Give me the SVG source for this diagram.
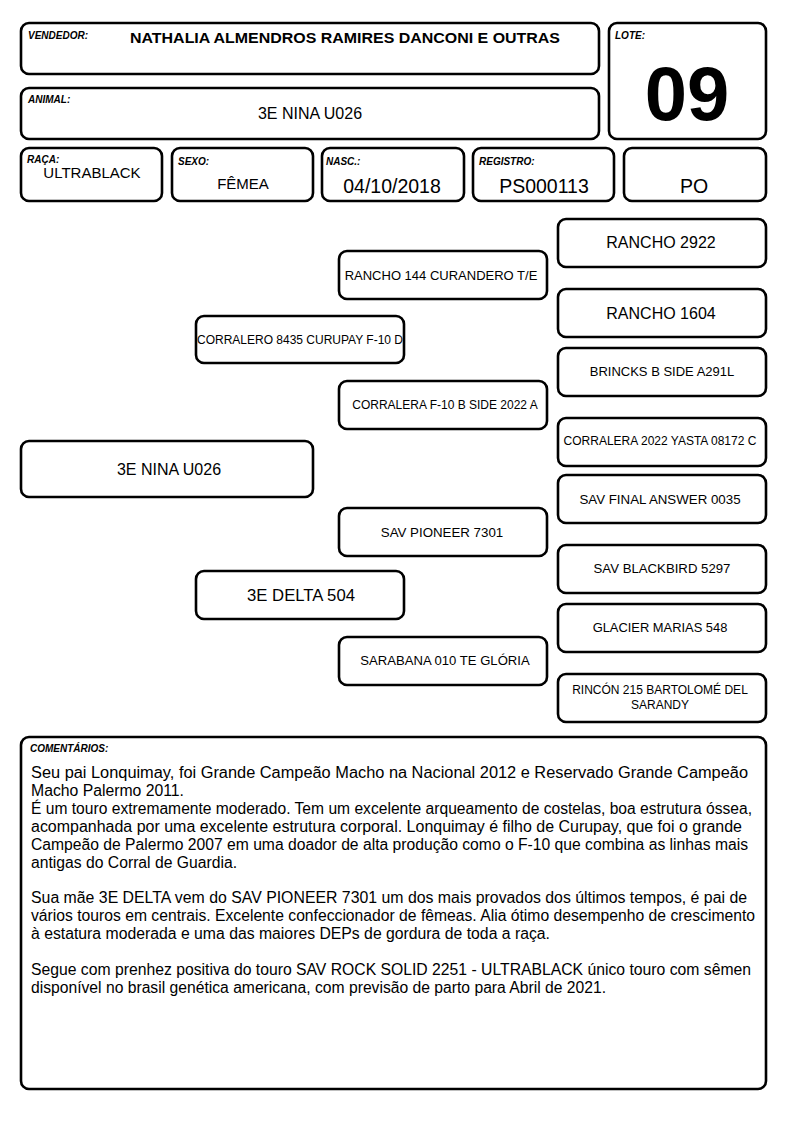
<svg xmlns="http://www.w3.org/2000/svg" width="794" height="1123" viewBox="0 0 794 1123">
<style>
.b{fill:#fff;stroke:#000;stroke-width:2.6}
.lb{font-family:"Liberation Sans",Arial,sans-serif;font-size:10px;font-weight:bold;font-style:italic;fill:#000}
.t{font-family:"Liberation Sans",Arial,sans-serif;fill:#000;text-anchor:middle}
.c{font-family:"Liberation Sans",Arial,sans-serif;font-size:16px;fill:#000}
</style>
<rect width="794" height="1123" fill="#fff"/>
<g id="vendedor"><rect class="b" x="21" y="23" width="578" height="51" rx="8"/><text class="lb" x="28" y="39">VENDEDOR:</text><text class="t" x="345" y="43" font-size="15" font-weight="bold" textLength="430" lengthAdjust="spacingAndGlyphs">NATHALIA ALMENDROS RAMIRES DANCONI E OUTRAS</text></g>
<g id="animal"><rect class="b" x="21" y="88" width="578" height="51" rx="8"/><text class="lb" x="28" y="103">ANIMAL:</text><text class="t" x="310" y="119" font-size="16">3E NINA U026</text></g>
<g id="lote"><rect class="b" x="609" y="23" width="157" height="116" rx="8"/><text class="lb" x="615" y="39">LOTE:</text><text class="t" x="687" y="120" font-size="76" font-weight="bold">09</text></g>
<g id="raca"><rect class="b" x="21" y="148" width="141" height="53" rx="8"/><text class="lb" x="27" y="163">RAÇA:</text><text class="t" x="92" y="178" font-size="15">ULTRABLACK</text></g>
<g id="sexo"><rect class="b" x="172" y="148" width="141" height="53" rx="8"/><text class="lb" x="178" y="165">SEXO:</text><text class="t" x="243" y="189" font-size="15">FÊMEA</text></g>
<g id="nasc"><rect class="b" x="322" y="148" width="142" height="53" rx="8"/><text class="lb" x="326" y="165">NASC.:</text><text class="t" x="392" y="193" font-size="19.5">04/10/2018</text></g>
<g id="registro"><rect class="b" x="473" y="148" width="141" height="53" rx="8"/><text class="lb" x="479" y="165">REGISTRO:</text><text class="t" x="544" y="193" font-size="19.5">PS000113</text></g>
<g id="po"><rect class="b" x="624" y="148" width="142" height="53" rx="8"/><text class="t" x="694" y="193" font-size="19.5">PO</text></g>
<g id="connectors"></g>
<g id="p-rancho2922"><rect class="b" x="558" y="219" width="208" height="48" rx="8"/><text class="t" x="661" y="248" font-size="16">RANCHO 2922</text></g>
<g id="p-rancho144"><rect class="b" x="339" y="251" width="208" height="48" rx="8"/><text class="t" x="441" y="280" font-size="13">RANCHO 144 CURANDERO T/E</text></g>
<g id="p-rancho1604"><rect class="b" x="558" y="289" width="208" height="48" rx="8"/><text class="t" x="661" y="319" font-size="16">RANCHO 1604</text></g>
<g id="p-corralero"><rect class="b" x="196" y="316" width="208" height="47" rx="8"/><text x="197" y="344" font-family="Liberation Sans,Arial,sans-serif" font-size="12" textLength="206" lengthAdjust="spacingAndGlyphs">CORRALERO 8435 CURUPAY F-10 D</text></g>
<g id="p-brincks"><rect class="b" x="558" y="348" width="208" height="48" rx="8"/><text class="t" x="662" y="376" font-size="13">BRINCKS B SIDE A291L</text></g>
<g id="p-corraleraf10"><rect class="b" x="339" y="381" width="208" height="48" rx="8"/><text class="t" x="445" y="409" font-size="12">CORRALERA F-10 B SIDE 2022 A</text></g>
<g id="p-corralera2022"><rect class="b" x="558" y="418" width="208" height="48" rx="8"/><text class="t" x="660" y="445" font-size="12">CORRALERA 2022 YASTA 08172 C</text></g>
<g id="p-nina"><rect class="b" x="21" y="441" width="292" height="56" rx="8"/><text class="t" x="169" y="475" font-size="16">3E NINA U026</text></g>
<g id="p-savfinal"><rect class="b" x="558" y="475" width="208" height="48" rx="8"/><text class="t" x="660" y="504" font-size="13.3">SAV FINAL ANSWER 0035</text></g>
<g id="p-pioneer"><rect class="b" x="339" y="508" width="208" height="48" rx="8"/><text class="t" x="442" y="537" font-size="13.3">SAV PIONEER 7301</text></g>
<g id="p-blackbird"><rect class="b" x="558" y="545" width="208" height="48" rx="8"/><text class="t" x="662" y="573" font-size="13.2">SAV BLACKBIRD 5297</text></g>
<g id="p-delta"><rect class="b" x="196" y="571" width="208" height="48" rx="8"/><text class="t" x="301" y="601" font-size="16.7">3E DELTA 504</text></g>
<g id="p-glacier"><rect class="b" x="558" y="604" width="208" height="48" rx="8"/><text class="t" x="660" y="632" font-size="12.9">GLACIER MARIAS 548</text></g>
<g id="p-sarabana"><rect class="b" x="339" y="637" width="208" height="48" rx="8"/><text class="t" x="445" y="665" font-size="13.1">SARABANA 010 TE GLÓRIA</text></g>
<g id="p-rincon"><rect class="b" x="558" y="674" width="208" height="48" rx="8"/><text class="t" x="660" y="694" font-size="12">RINCÓN 215 BARTOLOMÉ DEL</text><text class="t" x="660" y="709" font-size="12">SARANDY</text></g>
<g id="comentarios"><rect class="b" x="21" y="737" width="745" height="352" rx="8"/><text class="lb" x="30" y="752">COMENTÁRIOS:</text>
<text class="c" x="31" y="778" textLength="717" lengthAdjust="spacingAndGlyphs">Seu pai Lonquimay, foi Grande Campeão Macho na Nacional 2012 e Reservado Grande Campeão</text>
<text class="c" x="31" y="795.9" textLength="153" lengthAdjust="spacingAndGlyphs">Macho Palermo 2011.</text>
<text class="c" x="31" y="813.8" textLength="721" lengthAdjust="spacingAndGlyphs">É um touro extremamente moderado. Tem um excelente arqueamento de costelas, boa estrutura óssea,</text>
<text class="c" x="31" y="831.7" textLength="711" lengthAdjust="spacingAndGlyphs">acompanhada por uma excelente estrutura corporal. Lonquimay é filho de Curupay, que foi o grande</text>
<text class="c" x="31" y="849.6" textLength="717" lengthAdjust="spacingAndGlyphs">Campeão de Palermo 2007 em uma doador de alta produção como o F-10 que combina as linhas mais</text>
<text class="c" x="31" y="867.5" textLength="206" lengthAdjust="spacingAndGlyphs">antigas do Corral de Guardia.</text>
<text class="c" x="31" y="903.3" textLength="716" lengthAdjust="spacingAndGlyphs">Sua mãe 3E DELTA vem do SAV PIONEER 7301 um dos mais provados dos últimos tempos, é pai de</text>
<text class="c" x="31" y="921.2" textLength="724" lengthAdjust="spacingAndGlyphs">vários touros em centrais. Excelente confeccionador de fêmeas. Alia ótimo desempenho de crescimento</text>
<text class="c" x="31" y="939.1" textLength="519" lengthAdjust="spacingAndGlyphs">à estatura moderada e uma das maiores DEPs de gordura de toda a raça.</text>
<text class="c" x="31" y="974.9" textLength="720" lengthAdjust="spacingAndGlyphs">Segue com prenhez positiva do touro SAV ROCK SOLID 2251 - ULTRABLACK único touro com sêmen</text>
<text class="c" x="31" y="992.8" textLength="575" lengthAdjust="spacingAndGlyphs">disponível no brasil genética americana, com previsão de parto para Abril de 2021.</text>
</g>
</svg>
